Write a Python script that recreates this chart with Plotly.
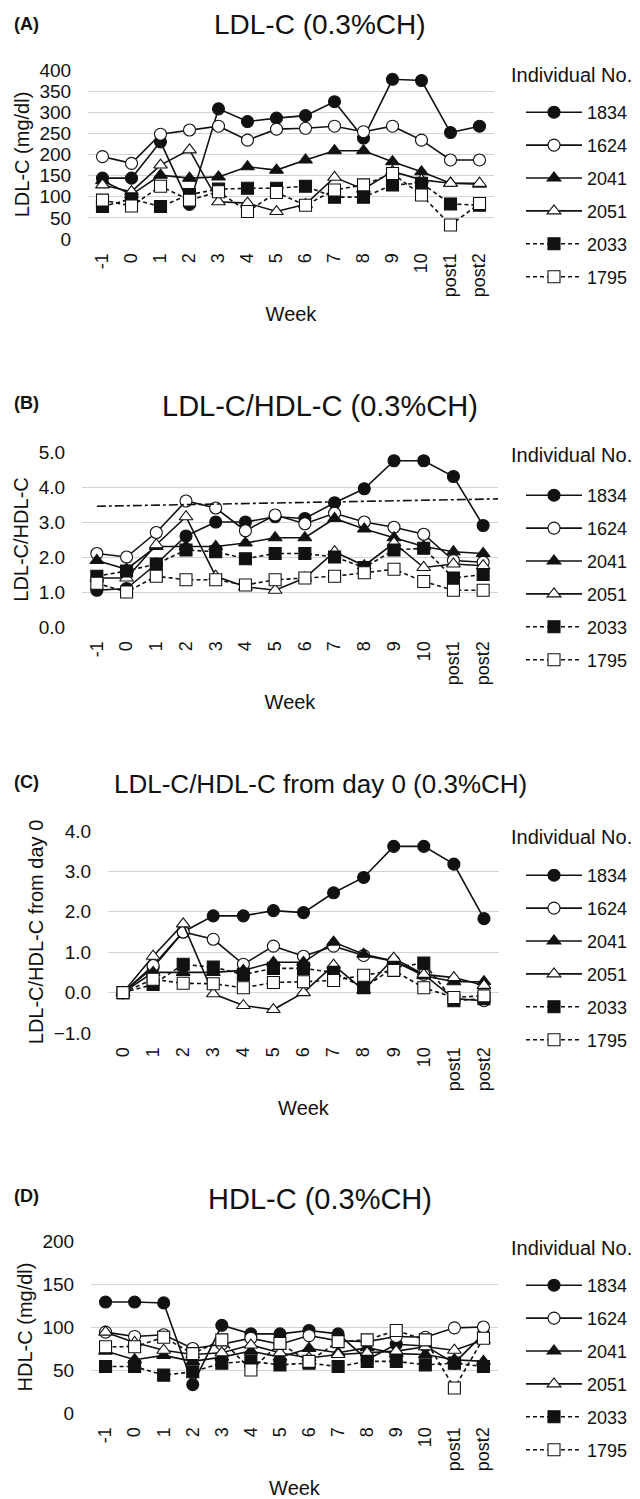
import plotly.graph_objects as go

# ---------------- data ----------------
WEEKS = ['-1', '0', '1', '2', '3', '4', '5', '6', '7', '8', '9', '10', 'post1', 'post2']
WEEKS_C = ['0', '1', '2', '3', '4', '5', '6', '7', '8', '9', '10', 'post1', 'post2']
IDS = ['1834', '1624', '2041', '2051', '2033', '1795']

# (A) LDL-C (mg/dl)
LDL_1834 = [144, 144, 230, 82, 308, 278, 286, 292, 325, 239, 378, 375, 252, 267]
LDL_1624 = [195, 179, 248, 258, 267, 234, 260, 262, 267, 254, 267, 234, 187, 187]
LDL_2041 = [138, 105, 151, 144, 147, 171, 163, 187, 209, 209, 183, 159, 132, 130]
LDL_2051 = [128, 112, 175, 211, 88, 85, 65, 82, 146, 118, 160, 140, 132, 132]
LDL_2033 = [77, 95, 77, 105, 118, 120, 120, 125, 99, 99, 128, 132, 83, 80]
LDL_1795 = [92, 78, 125, 92, 112, 65, 110, 80, 116, 128, 155, 104, 33, 84]

# (B) LDL-C/HDL-C
RATIO_1834 = [1.05, 1.1, 1.8, 2.6, 3.0, 3.0, 3.15, 3.1, 3.55, 3.95, 4.75, 4.75, 4.3, 2.9]
RATIO_1624 = [2.1, 2.0, 2.7, 3.6, 3.4, 2.75, 3.2, 2.95, 3.25, 3.0, 2.85, 2.65, 1.9, 1.85]
RATIO_2041 = [1.9, 1.65, 2.3, 2.3, 2.3, 2.4, 2.55, 2.55, 3.1, 2.8, 2.55, 2.3, 2.15, 2.1]
RATIO_2051 = [1.4, 1.4, 2.35, 3.15, 1.45, 1.15, 1.05, 1.4, 2.15, 1.75, 2.4, 1.7, 1.8, 1.75]
RATIO_2033 = [1.45, 1.6, 1.8, 2.2, 2.15, 1.95, 2.1, 2.1, 2.0, 1.7, 2.2, 2.25, 1.4, 1.5]
RATIO_1795 = [1.25, 1.0, 1.45, 1.35, 1.35, 1.2, 1.35, 1.4, 1.45, 1.55, 1.65, 1.3, 1.05, 1.05]
REF_LINE_B = [3.45, 3.66]   # dash-dot reference line (start, end)

# (C) LDL-C/HDL-C change from day 0
DELTA_1834 = [0, 0.62, 1.5, 1.9, 1.9, 2.03, 1.98, 2.47, 2.85, 3.62, 3.62, 3.18, 1.83]
DELTA_1624 = [0, 0.67, 1.5, 1.32, 0.7, 1.15, 0.9, 1.15, 0.92, 0.78, 0.45, -0.15, -0.2]
DELTA_2041 = [0, 0.5, 0.5, 0.5, 0.55, 0.75, 0.75, 1.25, 0.95, 0.78, 0.42, 0.27, 0.27]
DELTA_2051 = [0, 0.9, 1.7, -0.03, -0.32, -0.42, 0.0, 0.68, 0.06, 0.85, 0.45, 0.37, 0.18]
DELTA_2033 = [0, 0.2, 0.7, 0.63, 0.45, 0.6, 0.6, 0.5, 0.12, 0.62, 0.73, -0.2, -0.15]
DELTA_1795 = [0, 0.33, 0.23, 0.22, 0.12, 0.25, 0.27, 0.3, 0.43, 0.55, 0.12, -0.12, -0.08]

# (D) HDL-C (mg/dl)
HDL_1834 = [129, 129, 128, 33, 102, 92, 92, 96, 92, 62, 80, 78, 58, 92]
HDL_1624 = [94, 89, 91, 75, 80, 87, 80, 90, 84, 83, 89, 88, 99, 100]
HDL_2041 = [72, 62, 67, 60, 65, 72, 65, 75, 70, 76, 69, 68, 62, 60]
HDL_2051 = [94, 82, 73, 68, 70, 79, 70, 64, 68, 70, 72, 77, 73, 85]
HDL_2033 = [54, 54, 44, 48, 58, 60, 56, 58, 54, 60, 60, 56, 58, 54]
HDL_1795 = [77, 77, 88, 69, 85, 50, 81, 60, 83, 85, 96, 85, 29, 87]

# ---------------- styling ----------------
W, H = 640, 1499
FONT = 'Liberation Sans, Arial, sans-serif'
INK = '#111111'
GRID = '#d4d4d4'

STYLE = {
    '1834': dict(symbol='circle', fill=INK, dash='solid'),
    '1624': dict(symbol='circle', fill='white', dash='solid'),
    '2041': dict(symbol='triangle-up', fill=INK, dash='solid'),
    '2051': dict(symbol='triangle-up', fill='white', dash='solid'),
    '2033': dict(symbol='square', fill=INK, dash='4px,3px'),
    '1795': dict(symbol='square', fill='white', dash='4px,3px'),
}


def xdom(a, b):
    return [a / W, b / W]


def ydom(top, bottom):
    return [1 - bottom / H, 1 - top / H]


panels = [
    dict(key='A', title='LDL-C (0.3%CH)', tsize=28, ty=25, ly=24,
         ytitle='LDL-C (mg/dl)', cats=WEEKS,
         series=[LDL_1834, LDL_1624, LDL_2041, LDL_2051, LDL_2033, LDL_1795],
         xd=(88, 494), yd=(70, 239), yr=[0, 400], dt=50, fmt='d',
         leg_title_y=75, leg_top=94),
    dict(key='B', title='LDL-C/HDL-C (0.3%CH)', tsize=29, ty=406, ly=403,
         ytitle='LDL-C/HDL-C', cats=WEEKS,
         series=[RATIO_1834, RATIO_1624, RATIO_2041, RATIO_2051, RATIO_2033, RATIO_1795],
         xd=(82, 498), yd=(452, 627), yr=[0, 5], dt=1, fmt='.1f',
         leg_title_y=455, leg_top=477),
    dict(key='C', title='LDL-C/HDL-C from day 0 (0.3%CH)', tsize=26, ty=784, ly=782,
         ytitle='LDL-C/HDL-C from day 0', cats=WEEKS_C,
         series=[DELTA_1834, DELTA_1624, DELTA_2041, DELTA_2051, DELTA_2033, DELTA_1795],
         xd=(108, 499), yd=(831, 1033), yr=[-1, 4], dt=1, fmt='.1f',
         leg_title_y=837, leg_top=857),
    dict(key='D', title='HDL-C (0.3%CH)', tsize=29, ty=1199, ly=1196,
         ytitle='HDL-C (mg/dl)', cats=WEEKS,
         series=[HDL_1834, HDL_1624, HDL_2041, HDL_2051, HDL_2033, HDL_1795],
         xd=(91, 498), yd=(1241, 1413), yr=[0, 200], dt=50, fmt='d',
         leg_title_y=1248, leg_top=1267),
]

fig = go.Figure()
annotations = []
shapes = []
layout = {}

for i, p in enumerate(panels):
    n = '' if i == 0 else str(i + 1)
    xa, ya = 'x' + n, 'y' + n
    legname = 'legend' + n
    ncat = len(p['cats'])
    for sid, vals in zip(IDS, p['series']):
        st = STYLE[sid]
        fig.add_trace(go.Scatter(
            x=p['cats'], y=vals, name=sid, mode='lines+markers',
            xaxis=xa, yaxis=ya, legend=legname,
            legendgroup=p['key'] + sid,
            line=dict(color=INK, width=1.6, dash=st['dash']),
            marker=dict(symbol=st['symbol'], size=12, color=st['fill'],
                        line=dict(color=INK, width=1.1)),
            cliponaxis=False,
        ))
    layout['xaxis' + n] = dict(
        domain=xdom(*p['xd']), anchor=ya, type='category', automargin=False,
        categoryorder='array', categoryarray=p['cats'],
        range=[-0.5, ncat - 0.5], autorange=False,
        tickangle=-90, tickfont=dict(size=18, color=INK, family=FONT),
        ticks='outside', ticklen=6, tickcolor='rgba(0,0,0,0)',
        showgrid=False, showline=False, zeroline=False,
        title=dict(text='Week', font=dict(size=20, color=INK, family=FONT), standoff=10),
    )
    layout['yaxis' + n] = dict(
        domain=ydom(*p['yd']), anchor=xa, range=p['yr'], dtick=p['dt'],
        tick0=p['yr'][0], tickformat=p['fmt'], automargin=False,
        tickfont=dict(size=19, color=INK, family=FONT),
        ticks='outside', ticklen=12, tickcolor='rgba(0,0,0,0)',
        showgrid=True, gridcolor=GRID, gridwidth=1,
        showline=False, zeroline=False,
        title=dict(text=p['ytitle'], font=dict(size=20, color=INK, family=FONT), standoff=4),
    )
    layout[legname] = dict(
        xref='container', yref='container',
        x=521 / W, xanchor='left', y=1 - p['leg_top'] / H, yanchor='top',
        font=dict(size=18, color=INK, family=FONT),
        itemwidth=56, tracegroupgap=6.5, bgcolor='rgba(0,0,0,0)',
        borderwidth=0, itemclick=False, itemdoubleclick=False,
    )
    annotations.append(dict(
        text='Individual No.', x=509 / W, y=1 - p['leg_title_y'] / H,
        xref='paper', yref='paper', xanchor='left', yanchor='middle',
        showarrow=False, font=dict(size=20, color=INK, family=FONT)))
    annotations.append(dict(
        text=p['title'], x=320 / W, y=1 - p['ty'] / H, xref='paper', yref='paper',
        xanchor='center', yanchor='middle', showarrow=False,
        font=dict(size=p['tsize'], color=INK, family=FONT)))
    annotations.append(dict(
        text='<b>(' + p['key'] + ')</b>', x=12 / W, y=1 - p['ly'] / H,
        xref='paper', yref='paper', xanchor='left', yanchor='middle',
        showarrow=False, font=dict(size=18, color=INK, family=FONT)))
    if p['key'] == 'B':
        shapes.append(dict(
            type='line', xref=xa, yref=ya, x0=0, x1=ncat - 0.5,
            y0=REF_LINE_B[0], y1=REF_LINE_B[1],
            line=dict(color=INK, width=1.6, dash='dashdot')))

fig.update_layout(
    width=W, height=H, margin=dict(l=0, r=0, t=0, b=0, autoexpand=False),
    paper_bgcolor='white', plot_bgcolor='white',
    font=dict(family=FONT, color=INK),
    annotations=annotations, shapes=shapes, showlegend=True,
    **layout,
)

fig.write_html('out.html', config={'displayModeBar': False},
               post_script="document.body.style.margin='0';document.body.style.overflow='hidden';")
